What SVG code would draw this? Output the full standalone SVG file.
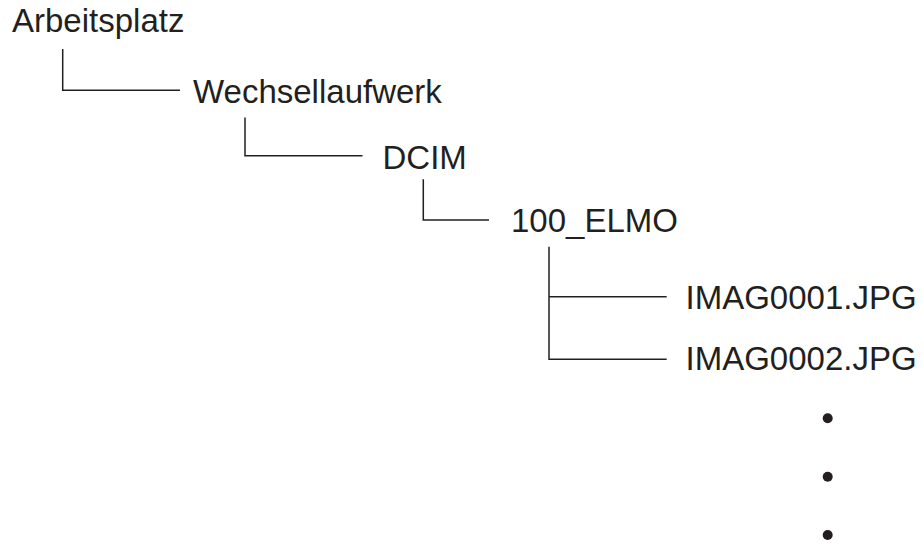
<svg xmlns="http://www.w3.org/2000/svg" width="924" height="544" viewBox="0 0 924 544">
<style>
.t{font-family:"Liberation Sans",Arial,Helvetica,sans-serif;font-size:33px;fill:#231f20}
.c{fill:none;stroke:#231f20;stroke-width:1.5}
.d{fill:#231f20}
</style>
<rect width="924" height="544" fill="#fff"/>
<g id="connectors">
<path class="c" d="M62.7 49V90.3H180"/>
<path class="c" d="M245 117.5V155.7H362.5"/>
<path class="c" d="M423.3 179.3V220H489"/>
<path class="c" d="M549 246.7V359.3H666.7"/>
<path class="c" d="M549 296.7H666.7"/>
</g>
<g id="arbeitsplatz"><text class="t" x="12" y="32.3">Arbeitsplatz</text></g>
<g id="wechsellaufwerk"><text class="t" x="193" y="102.5">Wechsellaufwerk</text></g>
<g id="dcim"><text class="t" x="382.5" y="169">DCIM</text></g>
<g id="elmo"><text class="t" x="511" y="232">100_ELMO</text></g>
<g id="imag1"><text class="t" x="685.5" y="308.5">IMAG0001.JPG</text></g>
<g id="imag2"><text class="t" x="685.5" y="370">IMAG0002.JPG</text></g>
<g id="dots">
<circle class="d" cx="827.7" cy="418.3" r="5"/>
<circle class="d" cx="827.7" cy="476.7" r="5"/>
<circle class="d" cx="827.7" cy="535" r="5"/>
</g>
</svg>
